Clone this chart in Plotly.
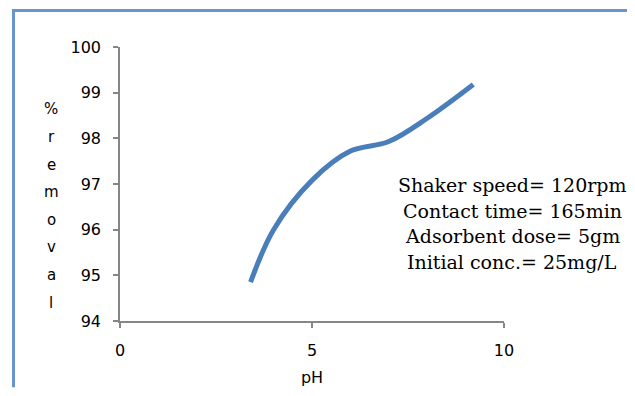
import plotly.graph_objects as go

# ---- data ----
ph = [3.4, 4.0, 5.0, 6.0, 7.0, 8.0, 9.2]
removal = [94.85, 96.0, 97.08, 97.72, 97.93, 98.44, 99.18]
x_ticks = [0, 5, 10]
y_ticks = [94, 95, 96, 97, 98, 99, 100]
y_title_letters = ["%", "r", "e", "m", "o", "v", "a", "l"]
note_lines = ["Shaker speed= 120rpm", "Contact time= 165min",
              "Adsorbent dose= 5gm", "Initial conc.= 25mg/L"]

# page body has an 8px margin; work in screen coordinates and convert
OFF = 8
SW, SH = 635, 396
W, H = SW - OFF, SH - OFF
L, T = 120 - OFF, 47 - OFF
PW, PH = 384, 281
R = W - L - PW
B = H - T - PH

def px(xs):
    return (xs - OFF - L) / PW

def py(ys):
    return (T + PH - (ys - OFF)) / PH

fig = go.Figure()
fig.add_trace(go.Scatter(
    x=ph, y=removal, mode="lines",
    line=dict(color="#4A7EBB", width=5, shape="spline", smoothing=1),
    showlegend=False, hoverinfo="skip"))

axis_font = dict(family="DejaVu Sans", size=16, color="#000000")

fig.update_layout(
    width=W, height=H, autosize=False,
    margin=dict(l=L, r=R, t=T, b=B, pad=0),
    paper_bgcolor="white", plot_bgcolor="white",
    xaxis=dict(range=[0, 10], tickvals=x_ticks, showgrid=False, zeroline=False,
               showline=True, linecolor="#868686", linewidth=1.5,
               ticks="outside", ticklen=5, tickcolor="#868686", tickwidth=1.5,
               tickfont=axis_font, ticklabelstandoff=9,
               title=dict(text="pH", font=axis_font, standoff=13)),
    yaxis=dict(range=[94, 100], tickvals=y_ticks, showgrid=False, zeroline=False,
               showline=True, linecolor="#868686", linewidth=1.5,
               ticks="outside", ticklen=5, tickcolor="#868686", tickwidth=1.5,
               tickfont=axis_font, ticklabelstandoff=9),
)

# vertical stacked y-axis title
for i, ch in enumerate(y_title_letters):
    fig.add_annotation(text=ch, xref="paper", yref="paper",
                       x=px(51), y=py(111 + i * 28.3), showarrow=False,
                       xanchor="center", yanchor="middle",
                       font=dict(family="DejaVu Sans", size=15, color="#000000"))

# note text
for i, line in enumerate(note_lines):
    fig.add_annotation(text=line, xref="paper", yref="paper",
                       x=px(512), y=py(189 + i * 26), showarrow=False,
                       xanchor="center", yanchor="middle",
                       font=dict(family="DejaVu Serif", size=19, color="#000000"))

# blue page frame (left, top, right)
frame = dict(color="#6A94D0", width=3)
fig.add_shape(type="line", xref="paper", yref="paper",
              x0=px(13.5), x1=px(13.5), y0=py(OFF), y1=py(SH), line=frame)
fig.add_shape(type="line", xref="paper", yref="paper",
              x0=px(12), x1=px(634), y0=py(OFF + 1.5), y1=py(OFF + 1.5), line=frame)
fig.add_shape(type="line", xref="paper", yref="paper",
              x0=px(632.5), x1=px(632.5), y0=py(OFF), y1=py(SH), line=frame)

fig.write_html("out.html", config={"displayModeBar": False})
